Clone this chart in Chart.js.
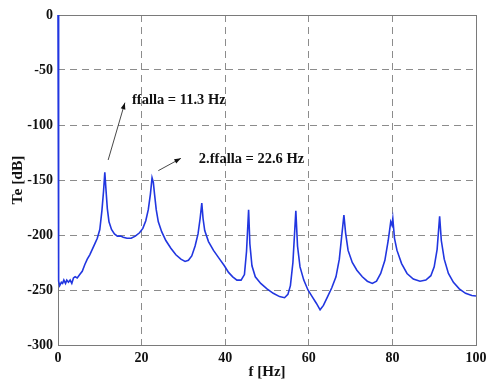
<!DOCTYPE html>
<html>
<head>
<meta charset="utf-8">
<script src="https://cdn.jsdelivr.net/npm/chart.js@4/dist/chart.umd.min.js"></script>
<style>
  html, body { margin: 0; padding: 0; background: #fff; }
  #wrap { width: 500px; height: 387px; }
</style>
</head>
<body>
<div id="wrap"><canvas id="spectre"></canvas></div>
<script>
// Spectre de Te (dB) en fonction de f (Hz)
const freq = [0, 0.15, 0.4, 0.8, 1.1, 1.4, 1.8, 2.1, 2.5, 2.9, 3.3, 3.7, 4.1, 4.6, 5.2, 5.8, 6.4, 7.0, 7.6, 8.2, 8.8, 9.4, 10.0, 10.5, 10.9, 11.2, 11.5, 11.8, 12.2, 12.8, 13.5, 14.2, 15.0, 15.6, 16.5, 17.5, 18.5, 19.5, 20.3, 21.0, 21.6, 22.1, 22.5, 22.8, 23.1, 23.5, 24.0, 24.8, 25.8, 27.0, 28.2, 29.4, 30.4, 31.2, 32.0, 32.8, 33.5, 34.0, 34.4, 34.7, 35.1, 36.0, 37.2, 38.5, 39.8, 40.8, 41.8, 42.8, 43.8, 44.6, 45.1, 45.6, 45.9, 46.4, 47.2, 48.5, 50.0, 51.5, 53.0, 54.2, 55.0, 55.6, 56.2, 56.9, 57.3, 57.9, 58.8, 59.8, 60.8, 61.8, 62.7, 63.5, 64.5, 65.5, 66.5, 67.3, 67.9, 68.4, 68.8, 69.4, 70.4, 71.5, 72.8, 74.0, 75.2, 76.2, 77.2, 78.2, 79.0, 79.6, 79.9, 80.1, 80.5, 81.1, 82.2, 83.5, 85.0, 86.6, 88.0, 89.2, 90.0, 90.7, 91.3, 91.7, 92.4, 93.4, 94.6, 96.0, 97.5, 99.0, 100];
const te = [0, -242, -246, -243, -244, -241, -244, -241, -243, -241, -244, -239, -238, -239, -236, -233, -227, -222, -218, -213, -208, -203, -195, -178, -160, -143, -160, -176, -188, -195, -199, -201, -201, -202, -203, -203, -201, -198, -194, -187, -177, -163, -148, -152, -163, -177, -188, -197, -205, -212, -218, -222, -224, -223, -219, -210, -199, -185, -171, -185, -196, -206, -214, -221, -228, -234, -238, -241, -241, -236, -215, -177, -208, -228, -238, -244, -249, -253, -256, -257, -254, -246, -225, -178, -210, -229, -241, -250, -256, -262, -268, -264, -256, -248, -238, -222, -200, -182, -198, -214, -225, -232, -238, -242, -244, -242, -235, -223, -205, -188, -191, -185, -203, -214, -226, -235, -240, -242, -241, -237, -229, -213, -183, -205, -222, -235, -243, -249, -253, -255, -255.5];

const xTicks = [0, 20, 40, 60, 80, 100];
const yTicks = [0, -50, -100, -150, -200, -250, -300];

// Annotations (en unités des axes)
const notes = [
    { text: 'ffalla = 11.3 Hz', at: [17.7, -77.5], from: [12.0, -131.8], to: [16.0, -79.7] },
    { text: '2.ffalla = 22.6 Hz', at: [33.7, -131], from: [24.0, -141.5], to: [29.4, -130.3] }
];

const serif = "'Liberation Serif', 'DejaVu Serif', serif";
const gridGrey = '#8c8c8c';

const annotPlugin = {
    id: 'annot',
    beforeDatasetsDraw(chart) {
        // cadre, sous la courbe
        const { ctx, chartArea: a } = chart;
        ctx.save();
        ctx.strokeStyle = '#7a7a7a';
        ctx.lineWidth = 1;
        ctx.strokeRect(Math.round(a.left) + 0.5, Math.round(a.top) + 0.5,
            Math.round(a.right - a.left), Math.round(a.bottom - a.top));
        ctx.restore();
    },
    afterDatasetsDraw(chart) {
        const { ctx, scales: { x, y } } = chart;
        ctx.save();
        // flèches + textes
        ctx.strokeStyle = '#333';
        ctx.fillStyle = '#111';
        notes.forEach(n => {
            const x1 = x.getPixelForValue(n.from[0]), y1 = y.getPixelForValue(n.from[1]);
            const x2 = x.getPixelForValue(n.to[0]), y2 = y.getPixelForValue(n.to[1]);
            ctx.beginPath();
            ctx.moveTo(x1, y1);
            ctx.lineTo(x2, y2);
            ctx.lineWidth = 0.9;
            ctx.stroke();
            const ang = Math.atan2(y2 - y1, x2 - x1);
            ctx.beginPath();
            ctx.moveTo(x2, y2);
            ctx.lineTo(x2 - 7 * Math.cos(ang - 0.35), y2 - 7 * Math.sin(ang - 0.35));
            ctx.lineTo(x2 - 7 * Math.cos(ang + 0.35), y2 - 7 * Math.sin(ang + 0.35));
            ctx.closePath();
            ctx.fill();
            ctx.font = 'bold 14.5px ' + serif;
            ctx.textBaseline = 'middle';
            ctx.textAlign = 'left';
            ctx.fillText(n.text, x.getPixelForValue(n.at[0]), y.getPixelForValue(n.at[1]));
        });
        ctx.restore();
    }
};

const edgeless = (ticks) => ctx => {
    const v = ctx.tick ? ctx.tick.value : null;
    return (v === ticks[0] || v === ticks[ticks.length - 1]) ? 'rgba(0,0,0,0)' : gridGrey;
};

new Chart(document.getElementById('spectre'), {
    type: 'line',
    data: {
        datasets: [{
            data: freq.map((f, i) => ({ x: f, y: te[i] })),
            borderColor: '#2136e0',
            borderWidth: 1.6,
            pointRadius: 0,
            tension: 0,
            fill: false,
            clip: 2
        }]
    },
    options: {
        responsive: true,
        maintainAspectRatio: false,
        animation: false,
        layout: { padding: { top: 15, right: 24, left: 0, bottom: 0 } },
        plugins: { legend: { display: false }, tooltip: { enabled: false } },
        scales: {
            x: {
                type: 'linear',
                min: 0, max: 100,
                afterBuildTicks: s => { s.ticks = xTicks.map(v => ({ value: v })); },
                afterFit: s => { s.height = 42; },
                grid: { color: edgeless(xTicks), lineWidth: 1, drawTicks: false },
                border: { display: false, dash: [7, 5] },
                ticks: { color: '#111', padding: 5, font: { family: serif, size: 14, weight: 'bold' } },
                title: { display: true, text: 'f [Hz]', color: '#111', padding: { top: 0, bottom: 6 },
                    font: { family: serif, size: 15, weight: 'bold' } }
            },
            y: {
                min: -300, max: 0,
                afterBuildTicks: s => { s.ticks = yTicks.map(v => ({ value: v })); },
                afterFit: s => { s.width = 58; },
                grid: { color: edgeless(yTicks), lineWidth: 1, drawTicks: false },
                border: { display: false, dash: [7, 5] },
                ticks: { color: '#111', padding: 5, font: { family: serif, size: 14, weight: 'bold' } },
                title: { display: true, text: 'Te [dB]', color: '#111', padding: { top: 9, bottom: 0 },
                    font: { family: serif, size: 15.5, weight: 'bold' } }
            }
        }
    },
    plugins: [annotPlugin]
});
</script>
</body>
</html>
